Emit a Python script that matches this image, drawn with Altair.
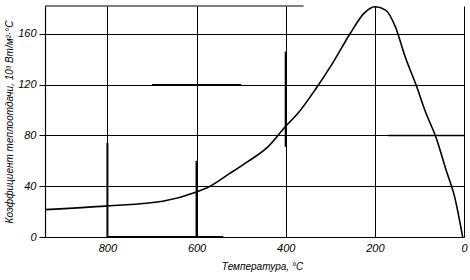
import altair as alt
import pandas as pd

# curve: temperature (°C) vs heat transfer coefficient (10^3 W/m2·°C)
temps = [940, 800, 676, 600, 573, 528, 486, 440, 400, 373, 332, 295, 255, 225,
         200, 176, 154, 132, 106, 88, 62, 40, 21, 3]
coef = [21.6, 24.5, 28.2, 35.5, 39.4, 49.5, 59.2, 71, 87.3, 97.3, 117, 136.8,
        160.5, 176, 181.4, 178.8, 165.7, 142, 118.3, 100, 77.6, 52.6, 31.6, 0]

x_ticks = [0, 200, 400, 600, 800]
y_ticks = [0, 40, 80, 120, 160]

# heavier (scanned) grid segments
seg_x1 = [800, 600, 400, 940, 700, 800, 170]
seg_x2 = [800, 600, 400, 360, 500, 540, 0]
seg_y1 = [0, 0, 71, 182, 120, 0, 80]
seg_y2 = [74, 60, 146, 182, 120, 0, 80]
seg_w = [2, 2, 2, 1.2, 1.6, 2, 1.6]

X_DOM = [0, 940]
Y_DOM = [0, 182]

df = pd.DataFrame({"t": temps, "k": coef})
seg = pd.DataFrame({"x1": seg_x1, "x2": seg_x2, "y1": seg_y1, "y2": seg_y2, "w": seg_w})

xs = alt.Scale(domain=X_DOM, reverse=True, nice=False, zero=False)
ys = alt.Scale(domain=Y_DOM, nice=False)

FONT = "Liberation Sans"

line = alt.Chart(df).mark_line(color="black", strokeWidth=1.6, interpolate="monotone").encode(
    x=alt.X("t:Q", scale=xs,
            axis=alt.Axis(values=x_ticks, title="Температура, °С", grid=True,
                          gridColor="black", gridOpacity=1, gridWidth=1,
                          ticks=False, domainColor="black", domainWidth=1.2,
                          labelFont=FONT, labelFontStyle="italic", labelFontSize=11,
                          labelColor="black", labelPadding=5, labelFlush=False,
                          titleFont=FONT, titleFontStyle="italic", titleFontSize=10,
                          titleFontWeight="normal", titleColor="black", titlePadding=8,
                          titleX=217)),
    y=alt.Y("k:Q", scale=ys,
            axis=alt.Axis(values=y_ticks,
                          title="Коэффициент теплоотдачи, 10³ Вт/м²·°С",
                          grid=True, gridColor="black", gridOpacity=1, gridWidth=1,
                          ticks=True, tickSize=6, tickColor="black",
                          domainColor="black", domainWidth=1.2,
                          labelFont=FONT, labelFontStyle="italic", labelFontSize=11,
                          labelColor="black", labelPadding=3,
                          titleFont=FONT, titleFontStyle="italic", titleFontSize=10,
                          titleFontWeight="normal", titleColor="black", titlePadding=3)),
    order="t:Q",
)

segs = alt.Chart(seg).mark_rule(color="black").encode(
    x=alt.X("x1:Q", scale=xs),
    x2="x2:Q",
    y=alt.Y("y1:Q", scale=ys),
    y2="y2:Q",
    strokeWidth=alt.StrokeWidth("w:Q", scale=None, legend=None),
)

chart = alt.layer(segs, line).properties(
    width=419, height=231,
    padding={"left": 45, "top": 6, "right": 6, "bottom": 43},
    autosize=alt.AutoSizeParams(type="none"),
    background="white",
).configure_view(stroke=None)

chart.save("out.html", embed_options={"renderer": "svg", "actions": False})
